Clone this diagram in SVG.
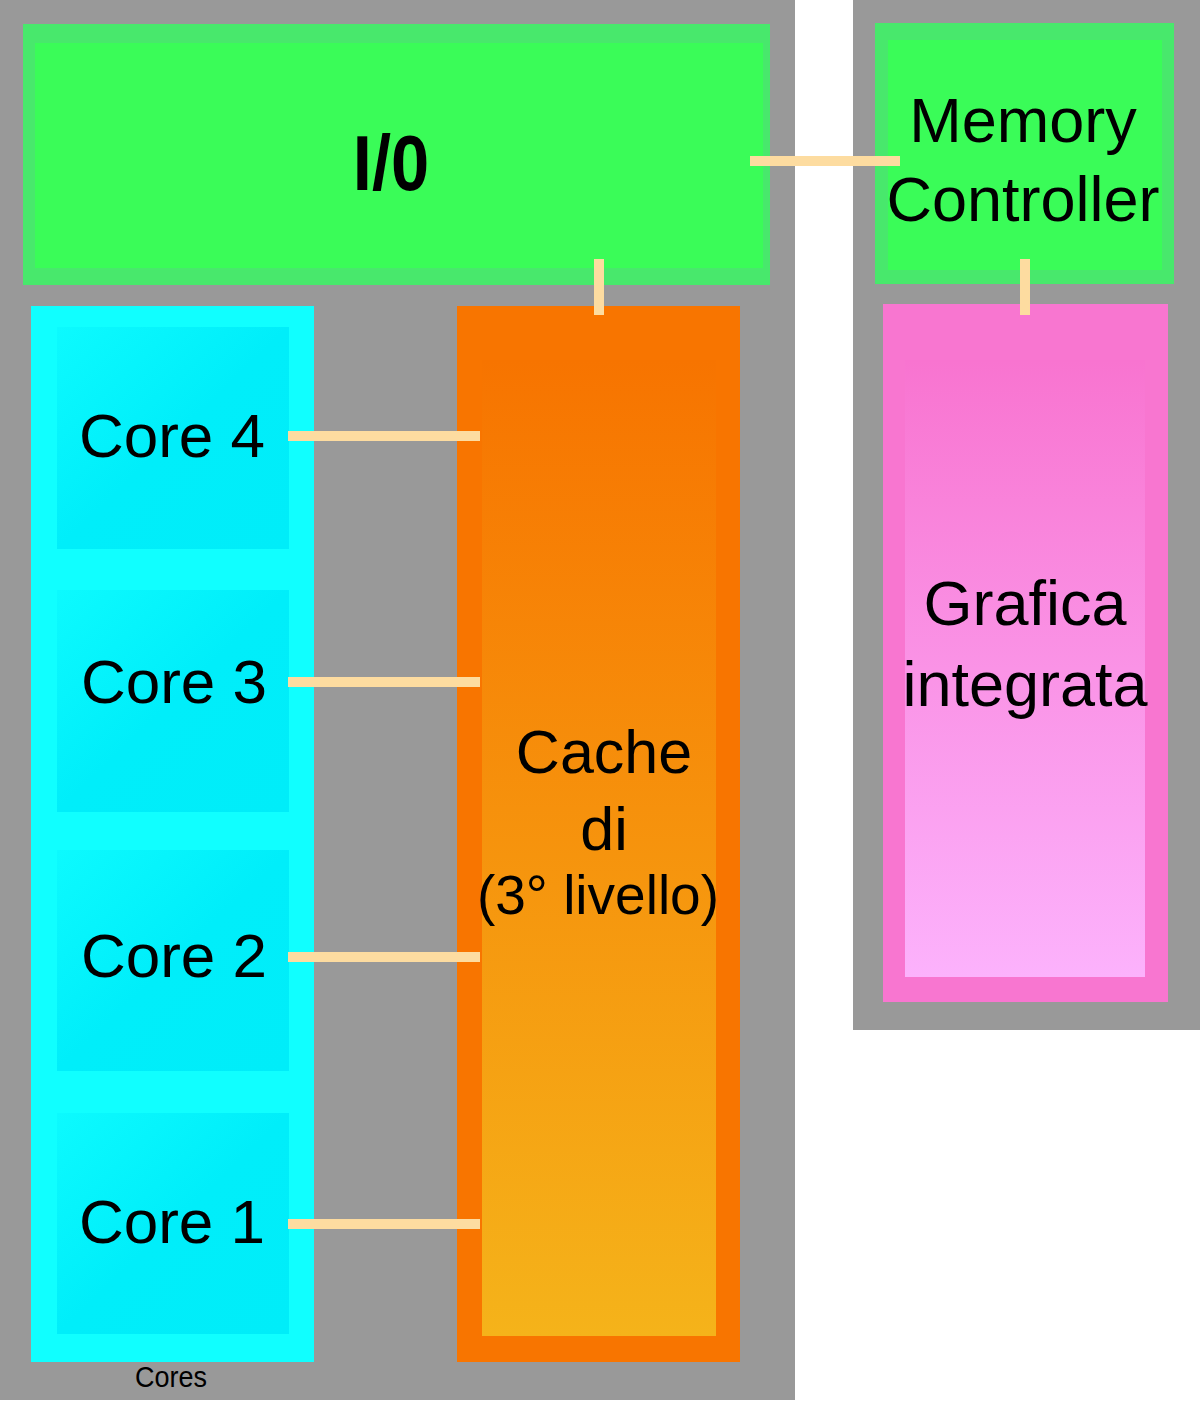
<svg xmlns="http://www.w3.org/2000/svg" width="1200" height="1401" viewBox="0 0 1200 1401">
<defs>
<linearGradient id="gCore" x1="0" y1="0" x2="1" y2="1">
<stop offset="0" stop-color="#0cfafe"/><stop offset="0.5" stop-color="#00eefa"/><stop offset="1" stop-color="#00edf9"/>
</linearGradient>
<linearGradient id="gCache" x1="0" y1="0" x2="0" y2="1">
<stop offset="0" stop-color="#f77400"/><stop offset="1" stop-color="#f5b31a"/>
</linearGradient>
<linearGradient id="gGfx" x1="0" y1="0" x2="0" y2="1">
<stop offset="0" stop-color="#f874d0"/><stop offset="1" stop-color="#fcb2fc"/>
</linearGradient>
<style>
.die{fill:#999999}
.grn{fill:#48e86c}
.grnIn{fill:#3afc58}
.lbl{font-family:"Liberation Sans",Arial,sans-serif;fill:#000;text-anchor:middle}
.big{font-size:62px}
.wire{stroke:#fddca0;stroke-width:10;stroke-linecap:butt;fill:none}
</style>
</defs>
<rect width="1200" height="1401" fill="#ffffff"/>
<rect class="die" x="0" y="0" width="795" height="1400"/>
<rect class="die" x="853" y="0" width="347" height="1030"/>

<g id="io">
<rect class="grn" x="23" y="24" width="747" height="261"/>
<rect class="grnIn" x="35" y="43" width="728" height="225"/>
<text class="lbl" x="391" y="190" font-size="78" font-weight="bold" transform="translate(391 0) scale(0.88 1) translate(-391 0)">I/0</text>
</g>

<g id="memory-controller">
<rect class="grn" x="875" y="23" width="299" height="261"/>
<rect class="grnIn" x="888" y="40" width="274" height="230"/>
<text class="lbl" x="1023" y="142" font-size="63">Memory</text>
<text class="lbl" x="1023" y="221" font-size="63">Controller</text>
</g>

<g id="cores">
<rect fill="#10ffff" x="31" y="306" width="283" height="1056"/>
<rect fill="url(#gCore)" x="57" y="327" width="232" height="222"/>
<rect fill="url(#gCore)" x="57" y="590" width="232" height="222"/>
<rect fill="url(#gCore)" x="57" y="850" width="232" height="221"/>
<rect fill="url(#gCore)" x="57" y="1113" width="232" height="221"/>
<text class="lbl" x="171" y="1387" font-size="30" transform="translate(171 0) scale(0.9 1) translate(-171 0)">Cores</text>
</g>
<g id="core4"><text class="lbl big" x="172" y="457">Core 4</text></g>
<g id="core3"><text class="lbl big" x="174" y="703">Core 3</text></g>
<g id="core2"><text class="lbl big" x="174" y="977">Core 2</text></g>
<g id="core1"><text class="lbl big" x="172" y="1243">Core 1</text></g>

<g id="cache">
<rect fill="#f87500" x="457" y="306" width="283" height="1056"/>
<rect fill="url(#gCache)" x="482" y="360" width="234" height="976"/>
<text class="lbl" x="604" y="773" font-size="61">Cache</text>
<text class="lbl" x="604" y="850" font-size="61">di</text>
<text class="lbl" x="598" y="914" font-size="55">(3° livello)</text>
</g>

<g id="graphics">
<rect fill="#f876d0" x="883" y="304" width="285" height="698"/>
<rect fill="url(#gGfx)" x="905" y="360" width="240" height="617"/>
<text class="lbl" x="1025" y="625" font-size="63">Grafica</text>
<text class="lbl" x="1025" y="706" font-size="63">integrata</text>
</g>

<g id="connectors">
<line class="wire" x1="750" y1="161" x2="900" y2="161"/>
<line class="wire" x1="599" y1="259" x2="599" y2="315"/>
<line class="wire" x1="1025" y1="259" x2="1025" y2="315"/>
<line class="wire" x1="288" y1="436" x2="480" y2="436"/>
<line class="wire" x1="288" y1="682" x2="480" y2="682"/>
<line class="wire" x1="288" y1="957" x2="480" y2="957"/>
<line class="wire" x1="288" y1="1224" x2="480" y2="1224"/>
</g>
</svg>
